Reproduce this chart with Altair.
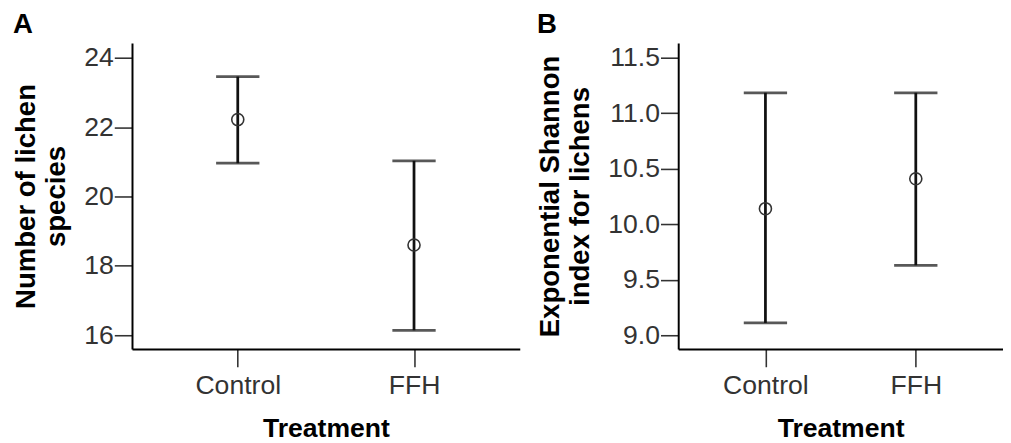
import altair as alt
import pandas as pd

treatment = ["Control", "FFH"]
species_mean = [22.22, 18.6]
species_lower = [20.96, 16.14]
species_upper = [23.46, 21.03]
shannon_mean = [10.14, 10.41]
shannon_lower = [9.11, 9.63]
shannon_upper = [11.185, 11.185]

species_ticks = [16, 18, 20, 22, 24]
shannon_ticks = [9.0, 9.5, 10.0, 10.5, 11.0, 11.5]

FONT = "Liberation Sans"

df_a = pd.DataFrame({"Treatment": treatment, "mean": species_mean,
                     "lower": species_lower, "upper": species_upper})
df_b = pd.DataFrame({"Treatment": treatment, "mean": shannon_mean,
                     "lower": shannon_lower, "upper": shannon_upper})


def panel(df, letter, ytitle, domain, ticks, fmt, width, xpad):
    x = alt.X("Treatment:N", sort=treatment, scale=alt.Scale(type="point", padding=xpad),
              axis=alt.Axis(title="Treatment", labelAngle=0, labelFont=FONT,
                            labelFontSize=27, labelColor="#333", tickSize=18,
                            tickWidth=1.6, tickColor="#333", labelPadding=6,
                            titleFont=FONT, titleFontSize=27, titleFontWeight="bold",
                            titleColor="#000", titlePadding=18, domainColor="#000",
                            domainWidth=2))
    yscale = alt.Scale(domain=domain, nice=False, zero=False)
    yaxis = alt.Axis(title=ytitle, values=ticks, format=fmt, labelFont=FONT,
                     labelFontSize=27, labelColor="#333", tickSize=18,
                     tickWidth=1.6, tickColor="#333", labelPadding=1,
                     titleFont=FONT, titleFontSize=28, titleFontWeight="bold",
                     titleColor="#000", titlePadding=14, titleLineHeight=30,
                     domainColor="#000", domainWidth=2, grid=False)
    base = alt.Chart(df)
    rule = base.mark_rule(color="#111", strokeWidth=2.8).encode(
        x=x, y=alt.Y("lower:Q", scale=yscale, axis=yaxis), y2="upper:Q")
    cap_lo = base.mark_tick(color="#111", thickness=2.8, size=44).encode(
        x=x, y=alt.Y("lower:Q", scale=yscale, axis=yaxis))
    cap_hi = base.mark_tick(color="#111", thickness=2.8, size=44).encode(
        x=x, y=alt.Y("upper:Q", scale=yscale, axis=yaxis))
    pt = base.mark_point(shape="circle", size=150, filled=False, color="#333",
                         strokeWidth=1.6, opacity=1).encode(
        x=x, y=alt.Y("mean:Q", scale=yscale, axis=yaxis))
    return alt.layer(rule, cap_lo, cap_hi, pt).properties(
        width=width, height=311,
        title=alt.TitleParams(letter, anchor="start", frame="bounds", fontSize=28,
                              font=FONT, fontWeight="bold", color="#000", offset=4))


a = panel(df_a, "A", ["Number of  lichen", "species"], [15.6, 24.43],
          species_ticks, "d", 394, 0.6)
b = panel(df_b, "B", ["Exponential Shannon", "index for lichens"], [8.875, 11.634],
          shannon_ticks, ".1f", 330, 0.58)

chart = alt.hconcat(a, b, spacing=17).properties(
    padding={"left": 4, "top": 0, "right": 0, "bottom": 0},
    background="white"
).configure_view(strokeWidth=0, stroke="transparent")

chart.save("out.html", embed_options={"renderer": "svg", "actions": False})
